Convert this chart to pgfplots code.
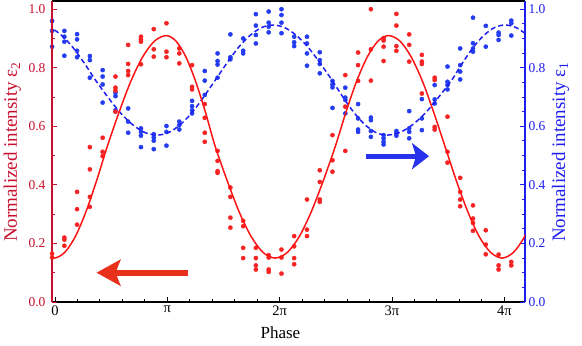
\documentclass[border=0pt]{standalone}
\usepackage{fontspec}
\setmainfont{Liberation Serif}
\usepackage{pgfplots}
\usepackage{pgfplotstable}
\pgfplotsset{compat=1.18}
\usetikzlibrary{arrows.meta}

\definecolor{axred}{RGB}{200,16,46}
\definecolor{dotred}{RGB}{245,35,35}
\definecolor{linered}{RGB}{252,20,20}
\definecolor{arrred}{RGB}{232,48,26}
\definecolor{axblue}{RGB}{30,30,240}
\definecolor{dotblue}{RGB}{35,60,240}
\definecolor{arrblue}{RGB}{40,50,235}

% measured red points (x in units of pi)
\pgfplotstableread{
x y
-0.026 0.165
-0.026 0.152
0.083 0.220
0.083 0.213
0.083 0.192
0.196 0.376
0.196 0.317
0.196 0.264
0.310 0.529
0.310 0.453
0.310 0.359
0.310 0.325
0.424 0.561
0.424 0.513
0.424 0.498
0.538 0.770
0.538 0.732
0.538 0.722
0.538 0.650
0.651 0.878
0.651 0.813
0.651 0.789
0.651 0.775
0.765 0.906
0.765 0.897
0.765 0.889
0.765 0.812
0.879 0.932
0.879 0.863
0.879 0.838
0.992 0.952
0.992 0.855
0.992 0.836
1.106 0.866
1.106 0.849
1.106 0.815
1.220 0.809
1.220 0.735
1.220 0.726
1.333 0.676
1.333 0.629
1.333 0.578
1.333 0.547
1.447 0.516
1.447 0.482
1.447 0.447
1.447 0.441
1.561 0.391
1.561 0.359
1.561 0.288
1.561 0.254
1.675 0.277
1.675 0.259
1.675 0.185
1.675 0.150
1.788 0.185
1.788 0.150
1.788 0.125
1.788 0.111
1.902 0.160
1.902 0.152
1.902 0.111
1.902 0.103
2.016 0.179
2.016 0.152
2.016 0.097
2.129 0.225
2.129 0.190
2.129 0.150
2.129 0.129
2.243 0.350
2.243 0.247
2.243 0.225
2.357 0.450
2.357 0.410
2.357 0.350
2.357 0.342
2.470 0.570
2.470 0.484
2.470 0.445
2.584 0.775
2.584 0.667
2.584 0.516
2.698 0.852
2.698 0.809
2.698 0.755
2.812 1.000
2.812 0.863
2.812 0.756
2.925 0.901
2.925 0.893
2.925 0.872
2.925 0.823
3.039 0.984
3.039 0.944
3.039 0.874
3.039 0.858
3.153 0.914
3.153 0.878
3.153 0.821
3.266 0.844
3.266 0.821
3.266 0.813
3.266 0.712
3.380 0.766
3.380 0.758
3.380 0.598
3.380 0.589
3.494 0.633
3.494 0.513
3.494 0.476
3.607 0.424
3.607 0.376
3.607 0.350
3.607 0.327
3.721 0.330
3.721 0.285
3.721 0.270
3.721 0.243
3.835 0.245
3.835 0.196
3.835 0.163
3.949 0.162
3.949 0.125
3.949 0.111
4.062 0.137
4.062 0.125
}\reddots

\pgfplotstableread{
x y
-0.026 0.960
-0.026 0.926
-0.026 0.872
0.083 0.926
0.083 0.906
0.083 0.889
0.083 0.841
0.196 0.915
0.196 0.897
0.196 0.858
0.196 0.836
0.310 0.840
0.310 0.826
0.310 0.766
0.424 0.792
0.424 0.770
0.424 0.743
0.424 0.681
0.538 0.715
0.538 0.703
0.538 0.655
0.651 0.661
0.651 0.616
0.651 0.578
0.765 0.593
0.765 0.581
0.765 0.568
0.765 0.529
0.879 0.573
0.879 0.562
0.879 0.551
0.879 0.522
0.992 0.601
0.992 0.581
0.992 0.534
1.106 0.616
1.106 0.604
1.106 0.589
1.220 0.687
1.220 0.669
1.220 0.655
1.220 0.644
1.333 0.789
1.333 0.756
1.333 0.707
1.447 0.849
1.447 0.823
1.447 0.811
1.447 0.766
1.561 0.914
1.561 0.836
1.561 0.829
1.675 0.900
1.675 0.858
1.675 0.849
1.788 0.983
1.788 0.944
1.788 0.912
1.788 0.883
1.902 0.992
1.902 0.954
1.902 0.940
1.902 0.921
2.016 1.000
2.016 0.980
2.016 0.954
2.016 0.918
2.129 0.906
2.129 0.887
2.129 0.874
2.243 0.906
2.243 0.883
2.243 0.849
2.243 0.807
2.357 0.853
2.357 0.826
2.357 0.813
2.357 0.781
2.470 0.755
2.470 0.743
2.470 0.733
2.470 0.663
2.584 0.732
2.584 0.698
2.584 0.690
2.584 0.644
2.698 0.676
2.698 0.627
2.698 0.589
2.698 0.581
2.812 0.630
2.812 0.621
2.812 0.584
2.812 0.564
2.925 0.570
2.925 0.559
2.925 0.547
2.925 0.538
3.039 0.584
3.039 0.576
3.039 0.568
3.153 0.652
3.153 0.593
3.153 0.581
3.153 0.559
3.266 0.693
3.266 0.627
3.266 0.587
3.380 0.741
3.380 0.692
3.380 0.678
3.494 0.804
3.494 0.752
3.494 0.741
3.494 0.726
3.607 0.866
3.607 0.809
3.607 0.787
3.607 0.760
3.721 0.971
3.721 0.884
3.721 0.866
3.721 0.855
3.835 0.943
3.835 0.872
3.949 0.920
3.949 0.912
3.949 0.895
4.062 0.961
4.062 0.952
4.062 0.910
}\bluedots

% fitted curves
\pgfplotstableread{
x y
-0.110 0.169
-0.010 0.150
0.085 0.169
0.180 0.223
0.274 0.307
0.369 0.413
0.464 0.530
0.569 0.647
0.674 0.753
0.780 0.837
0.885 0.891
0.990 0.910
1.077 0.891
1.165 0.837
1.252 0.753
1.340 0.647
1.427 0.530
1.534 0.413
1.640 0.307
1.747 0.223
1.853 0.169
1.960 0.150
2.067 0.169
2.174 0.223
2.280 0.307
2.387 0.413
2.494 0.530
2.589 0.647
2.684 0.753
2.780 0.837
2.875 0.891
2.970 0.910
3.071 0.891
3.171 0.837
3.272 0.753
3.372 0.647
3.473 0.530
3.574 0.413
3.676 0.307
3.777 0.223
3.879 0.169
3.980 0.150
4.080 0.169
4.180 0.223
4.280 0.307
}\redfit

\pgfplotstableread{
x y
-0.140 0.946
-0.040 0.937
0.060 0.910
0.160 0.869
0.260 0.816
0.360 0.758
0.470 0.700
0.580 0.647
0.689 0.606
0.799 0.579
0.909 0.570
1.013 0.579
1.116 0.606
1.220 0.647
1.323 0.700
1.427 0.758
1.530 0.816
1.632 0.869
1.735 0.910
1.837 0.937
1.940 0.946
2.045 0.937
2.150 0.910
2.255 0.869
2.360 0.816
2.465 0.758
2.563 0.700
2.661 0.647
2.758 0.606
2.856 0.579
2.954 0.570
3.070 0.579
3.185 0.606
3.301 0.647
3.416 0.700
3.532 0.758
3.627 0.816
3.722 0.869
3.816 0.910
3.911 0.937
4.006 0.946
4.106 0.937
4.206 0.910
4.306 0.869
}\bluefit

\pgfplotsset{
  base/.style={
    scale only axis, width=473bp, height=301bp,
    at={(0,0)}, anchor=south west,
    xmin=-0.027, xmax=4.184, ymin=0, ymax=1.028,
    tick align=inside,
    major tick length=5bp, minor tick length=3bp,
    clip mode=individual,
  },
}

\begin{document}
\begin{tikzpicture}
\useasboundingbox (-52bp,-44bp) rectangle (530bp,302bp);

% frame with x axis
\begin{axis}[base,
  axis x line*=box, axis y line=none,
  x axis line style={line width=1.5bp, black},
  xtick={0,1,2,3,4}, xticklabels={0,π,2π,3π,4π},
  minor x tick num=4, xtick pos=left,
  tick style={black, line width=1bp},
  xticklabel style={font=\fontsize{14.5bp}{16bp}\selectfont, text=black},
  xlabel={Phase},
  xlabel style={font=\fontsize{17bp}{19bp}\selectfont, text=black,
    at={(axis description cs:0.483,-0.1196)}, anchor=base},
]
\end{axis}

% blue, right axis
\begin{axis}[base,
  axis x line=none, axis y line*=right,
  y axis line style={line width=1.6bp, axblue},
  ytick={0,0.2,0.4,0.6,0.8,1}, yticklabels={0.0,0.2,0.4,0.6,0.8,1.0},
  minor y tick num=3,
  tick style={axblue, line width=1bp},
  yticklabel style={font=\fontsize{13.5bp}{15bp}\selectfont, text=axblue},
  ylabel={Normalized intensity ε\textsubscript{1}},
  ylabel style={font=\fontsize{19bp}{21bp}\selectfont, text=axblue,
    at={(axis description cs:1.0846,0.498)}, anchor=base},
]
\addplot[only marks, mark=*, mark size=2.1bp, color=dotblue] table {\bluedots};
\addplot[axblue, line width=1.5bp, dash pattern=on 5bp off 3bp, smooth] table {\bluefit};
\draw[arrblue, line width=5bp, -{Stealth[length=17bp, width=26bp, inset=4bp]}]
  (axis cs:2.77,0.498) -- (axis cs:3.33,0.498);
\end{axis}

% red, left axis
\begin{axis}[base,
  axis x line=none, axis y line*=left,
  y axis line style={line width=1.6bp, axred},
  ytick={0,0.2,0.4,0.6,0.8,1}, yticklabels={0.0,0.2,0.4,0.6,0.8,1.0},
  minor y tick num=1,
  tick style={axred, line width=1bp},
  yticklabel style={font=\fontsize{13.5bp}{15bp}\selectfont, text=axred, xshift=-3bp},
  ylabel={Normalized intensity ε\textsubscript{2}},
  ylabel style={font=\fontsize{19bp}{21bp}\selectfont, text=axred,
    at={(axis description cs:-0.074,0.498)}, anchor=base},
]
\addplot[only marks, mark=*, mark size=2.1bp, color=dotred] table {\reddots};
\addplot[linered, line width=1.5bp, smooth] table {\redfit};
\draw[arrred, line width=6bp, -{Stealth[length=24bp, width=26bp, inset=5bp]}]
  (axis cs:1.187,0.10) -- (axis cs:0.369,0.10);
\end{axis}
\end{tikzpicture}
\end{document}
